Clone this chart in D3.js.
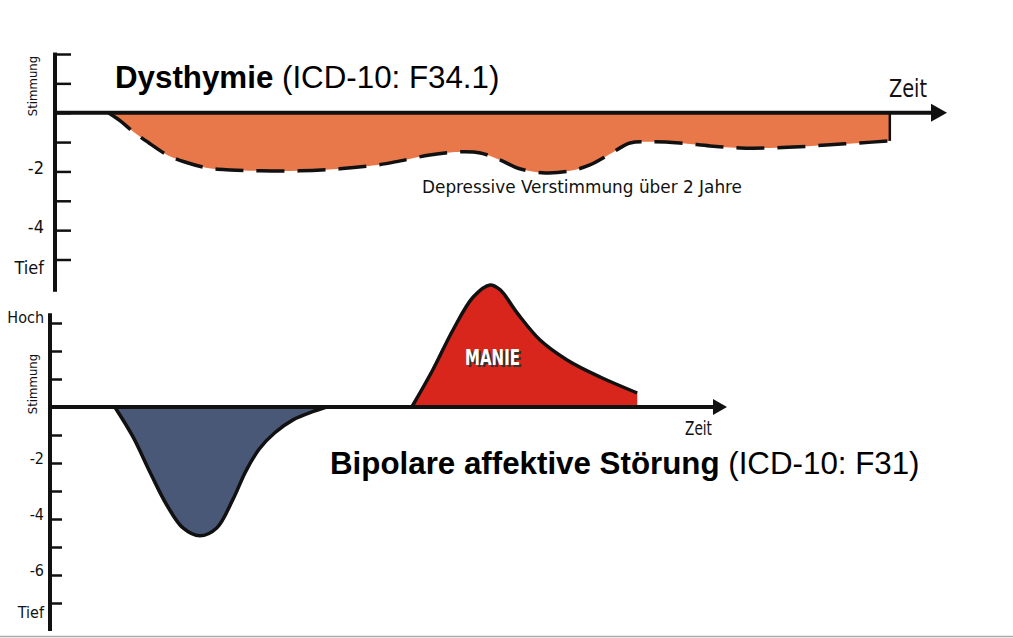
<!DOCTYPE html>
<html>
<head>
<meta charset="utf-8">
<script src="https://cdn.jsdelivr.net/npm/d3@7"></script>
<style>
body{margin:0;background:#fff;}
text{font-family:"Liberation Sans Narrow","DejaVu Sans Condensed","Roboto Condensed",sans-serif;font-stretch:condensed;fill:#111;}
.title{font-family:"Liberation Sans",Arial,sans-serif;font-stretch:normal;fill:#000;}
</style>
</head>
<body>
<script>
// Dysthymie: Zeit / Stimmung
let dysTime=[6.0,7.3,8.8,10.7,12.6,14.6,17.1,19.7,23.0,27.5,32.0,36.2,38.8,42.1,45.7,47.8,50.0,52.2,55.1,57.9,60.1,62.4,64.6,66.9,70.2,73.6,77.0,80.3,83.7,87.1,90.4,93.8];
let dysMood=[0,-0.27,-0.65,-1.06,-1.44,-1.68,-1.88,-1.95,-1.98,-1.98,-1.91,-1.78,-1.64,-1.44,-1.33,-1.37,-1.61,-1.91,-2.05,-1.98,-1.78,-1.40,-1.03,-0.99,-1.03,-1.13,-1.20,-1.20,-1.16,-1.09,-1.03,-0.96];
// Bipolar: Depression und Manie
let depTime=[9.6,12.3,14.8,17.3,19.7,22.2,24.7,27.1,29.0,31.0,33.3,36.0,39.0,41.0];
let depMood=[0,-1.07,-2.32,-3.5,-4.32,-4.6,-4.32,-3.3,-2.3,-1.5,-0.92,-0.46,-0.16,0];
let manTime=[53.6,56.7,59.7,62.7,65.2,66.7,69.2,72.6,76.6,81.5,87.0];
let manMood=[0,1.32,2.75,3.93,4.36,4.18,3.36,2.39,1.68,1.07,0.5];
// Achsen
let topTicks=[2,1,0,-1,-2,-3,-4,-5];
let topLabels={"-2":"-2","-4":"-4","-5":"Tief"};
let botTicks=[3,2,1,0,-1,-2,-3,-4,-5,-6,-7];
let botLabels={"3":"Hoch","-2":"-2","-4":"-4","-6":"-6","-7":"Tief"};

let width=1013,height=638;
let svg=d3.select("body").append("svg").attr("width",width).attr("height",height);

let topX=d3.scaleLinear().domain([0,100]).range([55,945]);
let topY=d3.scaleLinear().domain([-5,2]).range([259.5,54]);
let botX=d3.scaleLinear().domain([0,100]).range([50,725]);
let botY=d3.scaleLinear().domain([-7,3]).range([603,323]);

function pts(t,v){
    return t.map(function(d,i){return [d,v[i]];});
}

//Flächen zeichnen
function drawArea(data,x,y,fill,dash){
    let curve=d3.curveCatmullRom.alpha(0.5);
    svg.append("path").datum(data)
        .attr("d",d3.area().x(d=>x(d[0])).y0(y(0)).y1(d=>y(d[1])).curve(curve))
        .attr("fill",fill);
    svg.append("path").datum(data)
        .attr("d",d3.line().x(d=>x(d[0])).y(d=>y(d[1])).curve(curve))
        .attr("fill","none").attr("stroke","#111").attr("stroke-width",3.5)
        .attr("stroke-dasharray",dash);
}
let dys=pts(dysTime,dysMood);
drawArea(dys,topX,topY,"#e8784a","28,13");
let last=dys[dys.length-1];
svg.append("line")
    .attr("x1",topX(last[0])).attr("x2",topX(last[0]))
    .attr("y1",topY(last[1])).attr("y2",topY(0))
    .attr("stroke","#111").attr("stroke-width",2.5);
drawArea(pts(depTime,depMood),botX,botY,"#4a5878",null);
drawArea(pts(manTime,manMood),botX,botY,"#d9261c",null);

//Achsen zeichnen
function drawAxis(x,y,ticks,labels,tick,pad,fs,lineTop,lineBot,arrow){
    let g=svg.append("g").attr("transform","translate("+x.range()[0]+",0)")
        .call(d3.axisLeft(y).tickValues(ticks).tickSize(-tick).tickPadding(pad)
            .tickFormat(d=>labels[d]||""));
    g.select(".domain").remove();
    g.selectAll(".tick line").attr("stroke","#111").attr("stroke-width",2.5);
    g.selectAll(".tick text").attr("font-family",null).attr("font-size",fs).attr("fill","#111")
        .attr("dy",function(d){
            let l=labels[d];
            if(l=="Tief") return 14;
            if(l=="Hoch") return -1;
            return fs>17?2:0;
        });
    svg.append("line").attr("x1",x.range()[0]).attr("x2",x.range()[0])
        .attr("y1",y(lineTop)).attr("y2",y(lineBot))
        .attr("stroke","#111").attr("stroke-width",4);
    let y0=y(0),xe=x.range()[1];
    svg.append("line").attr("x1",x.range()[0]).attr("x2",xe-10)
        .attr("y1",y0).attr("y2",y0).attr("stroke","#111").attr("stroke-width",4);
    svg.append("path")
        .attr("d","M"+(xe-arrow[0])+","+(y0-arrow[1])+"L"+(xe+2)+","+y0+"L"+(xe-arrow[0])+","+(y0+arrow[1])+"Z")
        .attr("fill","#111");
}
drawAxis(topX,topY,topTicks,topLabels,16,11,18,2.05,-6.1,[14,9]);
drawAxis(botX,botY,botTicks,botLabels,12,6,16,3.35,-8,[12,8]);

//Texte
function title(x,y,bold,rest){
    let t=svg.append("text").attr("class","title").attr("x",x).attr("y",y).attr("font-size",31.3);
    t.append("tspan").attr("font-weight","bold").text(bold);
    t.append("tspan").text(rest);
}
title(115,88,"Dysthymie"," (ICD-10: F34.1)");
title(330,474,"Bipolare affektive Störung"," (ICD-10: F31)");

svg.append("text").attr("x",889).attr("y",97).attr("font-size",24)
    .attr("textLength",38).attr("lengthAdjust","spacingAndGlyphs").text("Zeit");
svg.append("text").attr("x",685).attr("y",435).attr("font-size",19)
    .attr("textLength",27).attr("lengthAdjust","spacingAndGlyphs").text("Zeit");
svg.append("text").attr("x",422).attr("y",193).attr("font-size",18)
    .attr("textLength",320).attr("lengthAdjust","spacingAndGlyphs")
    .text("Depressive Verstimmung über 2 Jahre");
svg.append("text").attr("transform","translate(37,86) rotate(-90)")
    .attr("text-anchor","middle").attr("font-size",13).text("Stimmung");
svg.append("text").attr("transform","translate(37,384) rotate(-90)")
    .attr("text-anchor","middle").attr("font-size",13).text("Stimmung");

svg.append("text").attr("x",467).attr("y",367).attr("font-size",21).attr("font-weight","bold")
    .attr("textLength",55).attr("lengthAdjust","spacingAndGlyphs").style("fill","#333").text("MANIE");
svg.append("text").attr("x",465).attr("y",365).attr("font-size",21).attr("font-weight","bold")
    .attr("textLength",55).attr("lengthAdjust","spacingAndGlyphs").style("fill","#fff").text("MANIE");

//untere graue Linie
svg.append("line").attr("x1",0).attr("x2",width).attr("y1",636.5).attr("y2",636.5)
    .attr("stroke","#aaa").attr("stroke-width",1.5);
</script>
</body>
</html>
